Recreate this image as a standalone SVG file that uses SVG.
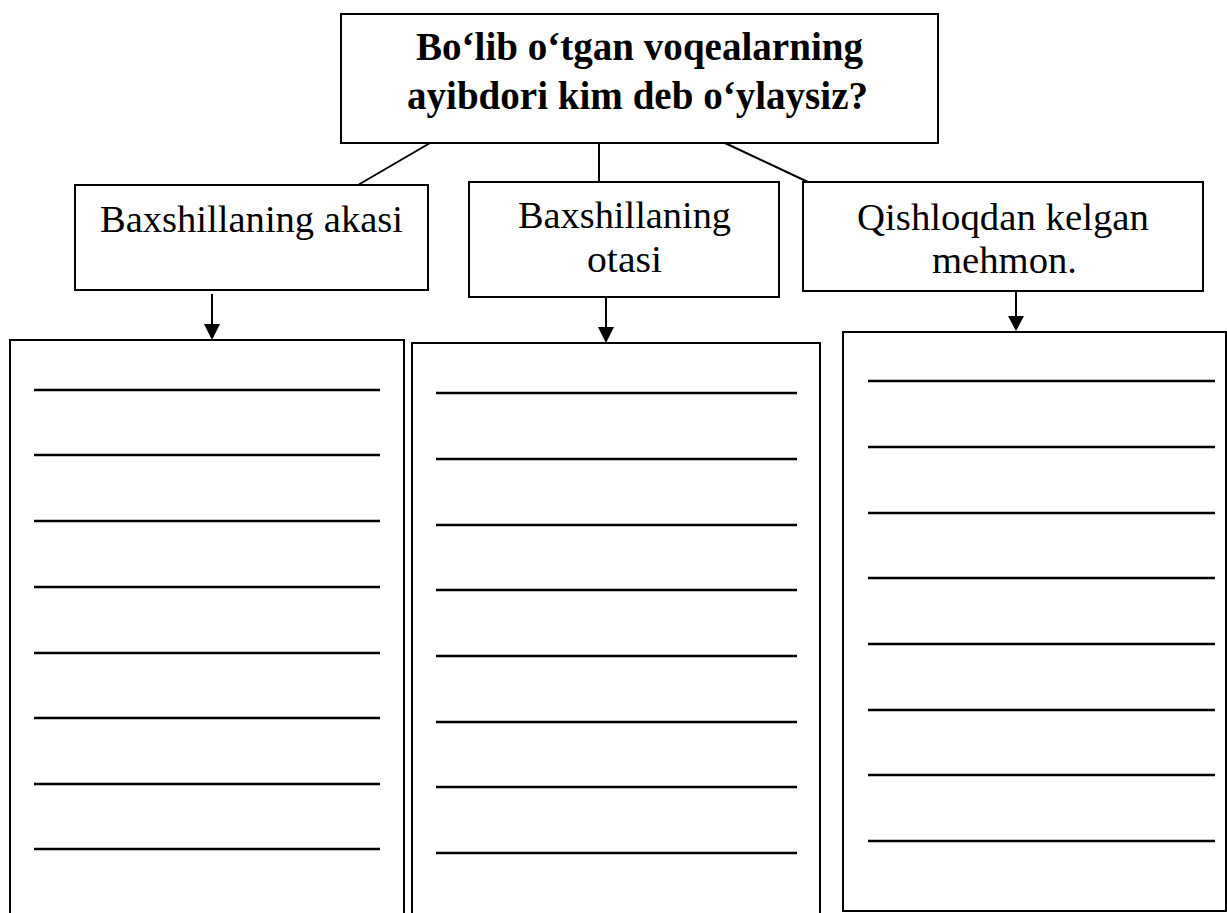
<svg xmlns="http://www.w3.org/2000/svg" width="1227" height="913" viewBox="0 0 1227 913">
<style>
.box{fill:#fff;stroke:#000;stroke-width:2}
.title{font-family:"Liberation Serif","Times New Roman",serif;font-weight:bold;font-size:39px;fill:#000}
.lbl{font-family:"Liberation Serif","Times New Roman",serif;font-size:38px;fill:#000}
.conn{stroke:#000;stroke-width:2;fill:none}
.rule{stroke:#000;stroke-width:2.6}
.head{fill:#000}
</style>
<g id="connectors">
<line class="conn" x1="430" y1="143" x2="358" y2="185"/>
<line class="conn" x1="599" y1="143" x2="599" y2="182"/>
<line class="conn" x1="725" y1="143" x2="808" y2="182"/>
<path class="conn" d="M212,294 L212,326"/>
<path class="head" d="M204,324 L220,324 L212,340 z"/>
<path class="conn" d="M606,297 L606,329"/>
<path class="head" d="M598,327 L614,327 L606,343 z"/>
<path class="conn" d="M1016,291 L1016,318"/>
<path class="head" d="M1008,316 L1024,316 L1016,331 z"/>
</g>
<g id="question">
<rect class="box" x="341" y="14" width="597" height="129"/>
<text class="title" x="639.5" y="60" text-anchor="middle" textLength="447" lengthAdjust="spacingAndGlyphs">Bo‘lib o‘tgan voqealarning</text>
<text class="title" x="637.5" y="109" text-anchor="middle" textLength="461" lengthAdjust="spacingAndGlyphs">ayibdori kim deb o‘ylaysiz?</text>
</g>
<g id="akasi">
<rect class="box" x="75" y="185" width="353" height="105"/>
<text class="lbl" x="251.5" y="232" text-anchor="middle" textLength="303" lengthAdjust="spacingAndGlyphs">Baxshillaning akasi</text>
</g>
<g id="otasi">
<rect class="box" x="469" y="182" width="310" height="115"/>
<text class="lbl" x="624.5" y="228" text-anchor="middle" textLength="213" lengthAdjust="spacingAndGlyphs">Baxshillaning</text>
<text class="lbl" x="624.5" y="272" text-anchor="middle" textLength="75" lengthAdjust="spacingAndGlyphs">otasi</text>
</g>
<g id="mehmon">
<rect class="box" x="803" y="182" width="400" height="109"/>
<text class="lbl" x="1003" y="230" text-anchor="middle" textLength="292" lengthAdjust="spacingAndGlyphs">Qishloqdan kelgan</text>
<text class="lbl" x="1004.5" y="273" text-anchor="middle" textLength="145" lengthAdjust="spacingAndGlyphs">mehmon.</text>
</g>
<g id="answers1">
<rect class="box" x="10" y="340" width="394" height="600"/>
<line class="rule" x1="34" y1="390" x2="380" y2="390"/>
<line class="rule" x1="34" y1="455" x2="380" y2="455"/>
<line class="rule" x1="34" y1="521" x2="380" y2="521"/>
<line class="rule" x1="34" y1="587" x2="380" y2="587"/>
<line class="rule" x1="34" y1="653" x2="380" y2="653"/>
<line class="rule" x1="34" y1="718" x2="380" y2="718"/>
<line class="rule" x1="34" y1="784" x2="380" y2="784"/>
<line class="rule" x1="34" y1="849" x2="380" y2="849"/>
</g>
<g id="answers2">
<rect class="box" x="412" y="343" width="408" height="600"/>
<line class="rule" x1="436" y1="393" x2="797" y2="393"/>
<line class="rule" x1="436" y1="459" x2="797" y2="459"/>
<line class="rule" x1="436" y1="525" x2="797" y2="525"/>
<line class="rule" x1="436" y1="590" x2="797" y2="590"/>
<line class="rule" x1="436" y1="656" x2="797" y2="656"/>
<line class="rule" x1="436" y1="722" x2="797" y2="722"/>
<line class="rule" x1="436" y1="787" x2="797" y2="787"/>
<line class="rule" x1="436" y1="853" x2="797" y2="853"/>
</g>
<g id="answers3">
<rect class="box" x="843" y="332" width="383" height="579"/>
<line class="rule" x1="868" y1="381" x2="1215" y2="381"/>
<line class="rule" x1="868" y1="447" x2="1215" y2="447"/>
<line class="rule" x1="868" y1="513" x2="1215" y2="513"/>
<line class="rule" x1="868" y1="578" x2="1215" y2="578"/>
<line class="rule" x1="868" y1="644" x2="1215" y2="644"/>
<line class="rule" x1="868" y1="710" x2="1215" y2="710"/>
<line class="rule" x1="868" y1="775" x2="1215" y2="775"/>
<line class="rule" x1="868" y1="841" x2="1215" y2="841"/>
</g>
</svg>
